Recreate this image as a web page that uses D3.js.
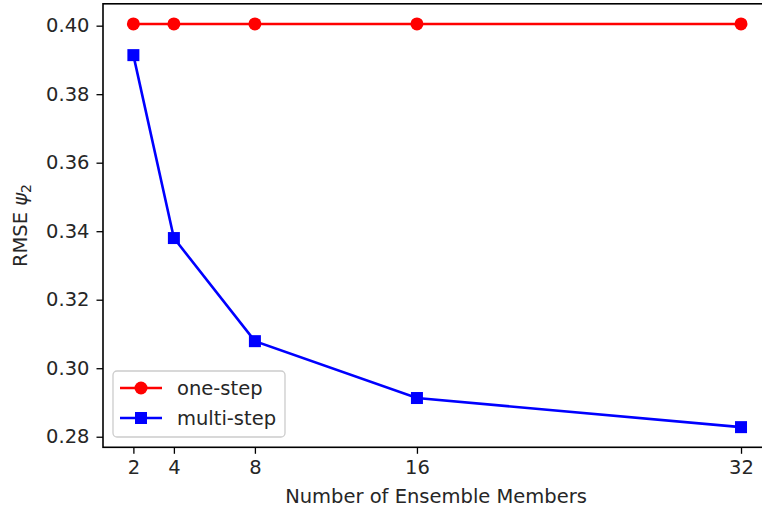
<!DOCTYPE html>
<html lang="en">
  <head>
    <meta charset="UTF-8" />
    <title>RMSE vs ensemble members</title>
    <style>
      body { margin: 0; background: #fff; }
      svg { display: block; }
      text {
        font-family: "DejaVu Sans", sans-serif;
        fill: #262626;
      }
      .tick-label { font-size: 19.5px; }
      .axis-label { font-size: 19.5px; }
    </style>
  </head>
  <body>
    <svg width="762" height="513"></svg>
    <script src="https://d3js.org/d3.v7.min.js"></script>
    <script>
      const members = [2, 4, 8, 16, 32];
      const oneStep = [0.4005, 0.4005, 0.4005, 0.4005, 0.4005];
      const multiStep = [0.3914, 0.338, 0.3079, 0.2913, 0.2828];
      const xTicks = [2, 4, 8, 16, 32];
      const yTicks = [0.28, 0.3, 0.32, 0.34, 0.36, 0.38, 0.4];

      const svg = d3.select("svg");
      const plotLeft = 103, plotRight = 771.4, plotTop = 3.8, plotBottom = 447.3;

      // matplotlib-style 5% padding
      const pad = (lo, hi) => [lo - (hi - lo) * 0.05, hi + (hi - lo) * 0.05];
      const x = d3.scaleLinear().domain(pad(d3.min(members), d3.max(members))).range([plotLeft, plotRight]);
      const allY = oneStep.concat(multiStep);
      const y = d3.scaleLinear().domain(pad(d3.min(allY), d3.max(allY))).range([plotBottom, plotTop]);

      const series = [
        { name: "one-step", values: oneStep, color: "#ff0000", marker: "circle" },
        { name: "multi-step", values: multiStep, color: "#0000ff", marker: "square" },
      ];

      const line = d3.line().x((d) => x(d[0])).y((d) => y(d[1]));

      const drawMarker = (g, type, color) => {
        if (type === "circle") {
          g.append("circle").attr("r", 6.5).attr("fill", color);
        } else {
          g.append("rect").attr("x", -6).attr("y", -6).attr("width", 12).attr("height", 12).attr("fill", color);
        }
      };

      series.forEach((s) => {
        const pts = members.map((m, i) => [m, s.values[i]]);
        svg.append("path")
          .attr("d", line(pts))
          .attr("fill", "none")
          .attr("stroke", s.color)
          .attr("stroke-width", 2.6);
        pts.forEach((p) => {
          const g = svg.append("g").attr("transform", `translate(${x(p[0])},${y(p[1])})`);
          drawMarker(g, s.marker, s.color);
        });
      });

      // axes frame
      svg.append("rect")
        .attr("x", plotLeft).attr("y", plotTop)
        .attr("width", plotRight - plotLeft).attr("height", plotBottom - plotTop)
        .attr("fill", "none").attr("stroke", "#000").attr("stroke-width", 1.6);

      const xAxis = svg.append("g").attr("transform", `translate(0,${plotBottom})`)
        .call(d3.axisBottom(x).tickValues(xTicks).tickSize(6.5).tickPadding(6));
      xAxis.select(".domain").remove();
      xAxis.selectAll("line").attr("stroke", "#000").attr("stroke-width", 1.3);
      xAxis.selectAll("text").attr("class", "tick-label").attr("font-family", null).attr("font-size", null).attr("fill", null);

      const yAxis = svg.append("g").attr("transform", `translate(${plotLeft},0)`)
        .call(d3.axisLeft(y).tickValues(yTicks).tickFormat(d3.format(".2f")).tickSize(6.5).tickPadding(7));
      yAxis.select(".domain").remove();
      yAxis.selectAll("line").attr("stroke", "#000").attr("stroke-width", 1.3);
      yAxis.selectAll("text").attr("class", "tick-label").attr("font-family", null).attr("font-size", null).attr("fill", null);

      svg.append("text")
        .attr("class", "axis-label")
        .attr("x", 436)
        .attr("y", 503)
        .attr("text-anchor", "middle")
        .text("Number of Ensemble Members");

      const yl = svg.append("text")
        .attr("class", "axis-label")
        .attr("transform", `translate(27,${(plotTop + plotBottom) / 2}) rotate(-90)`)
        .attr("text-anchor", "middle");
      yl.append("tspan").text("RMSE ");
      yl.append("tspan").attr("font-style", "italic").text("ψ");
      yl.append("tspan").attr("font-size", "14px").attr("dy", 4).text("2");

      // legend
      const legend = svg.append("g").attr("transform", "translate(113,371)");
      legend.append("rect")
        .attr("width", 172).attr("height", 66).attr("rx", 4)
        .attr("fill", "#fff").attr("fill-opacity", 0.8)
        .attr("stroke", "#cccccc").attr("stroke-width", 1.3);
      series.forEach((s, i) => {
        const cy = 17 + i * 30;
        legend.append("line")
          .attr("x1", 7).attr("x2", 49).attr("y1", cy).attr("y2", cy)
          .attr("stroke", s.color).attr("stroke-width", 2.6);
        const g = legend.append("g").attr("transform", `translate(28,${cy})`);
        drawMarker(g, s.marker, s.color);
        legend.append("text")
          .attr("class", "tick-label")
          .attr("x", 64).attr("y", cy).attr("dy", "0.35em")
          .text(s.name);
      });
    </script>
  </body>
</html>
